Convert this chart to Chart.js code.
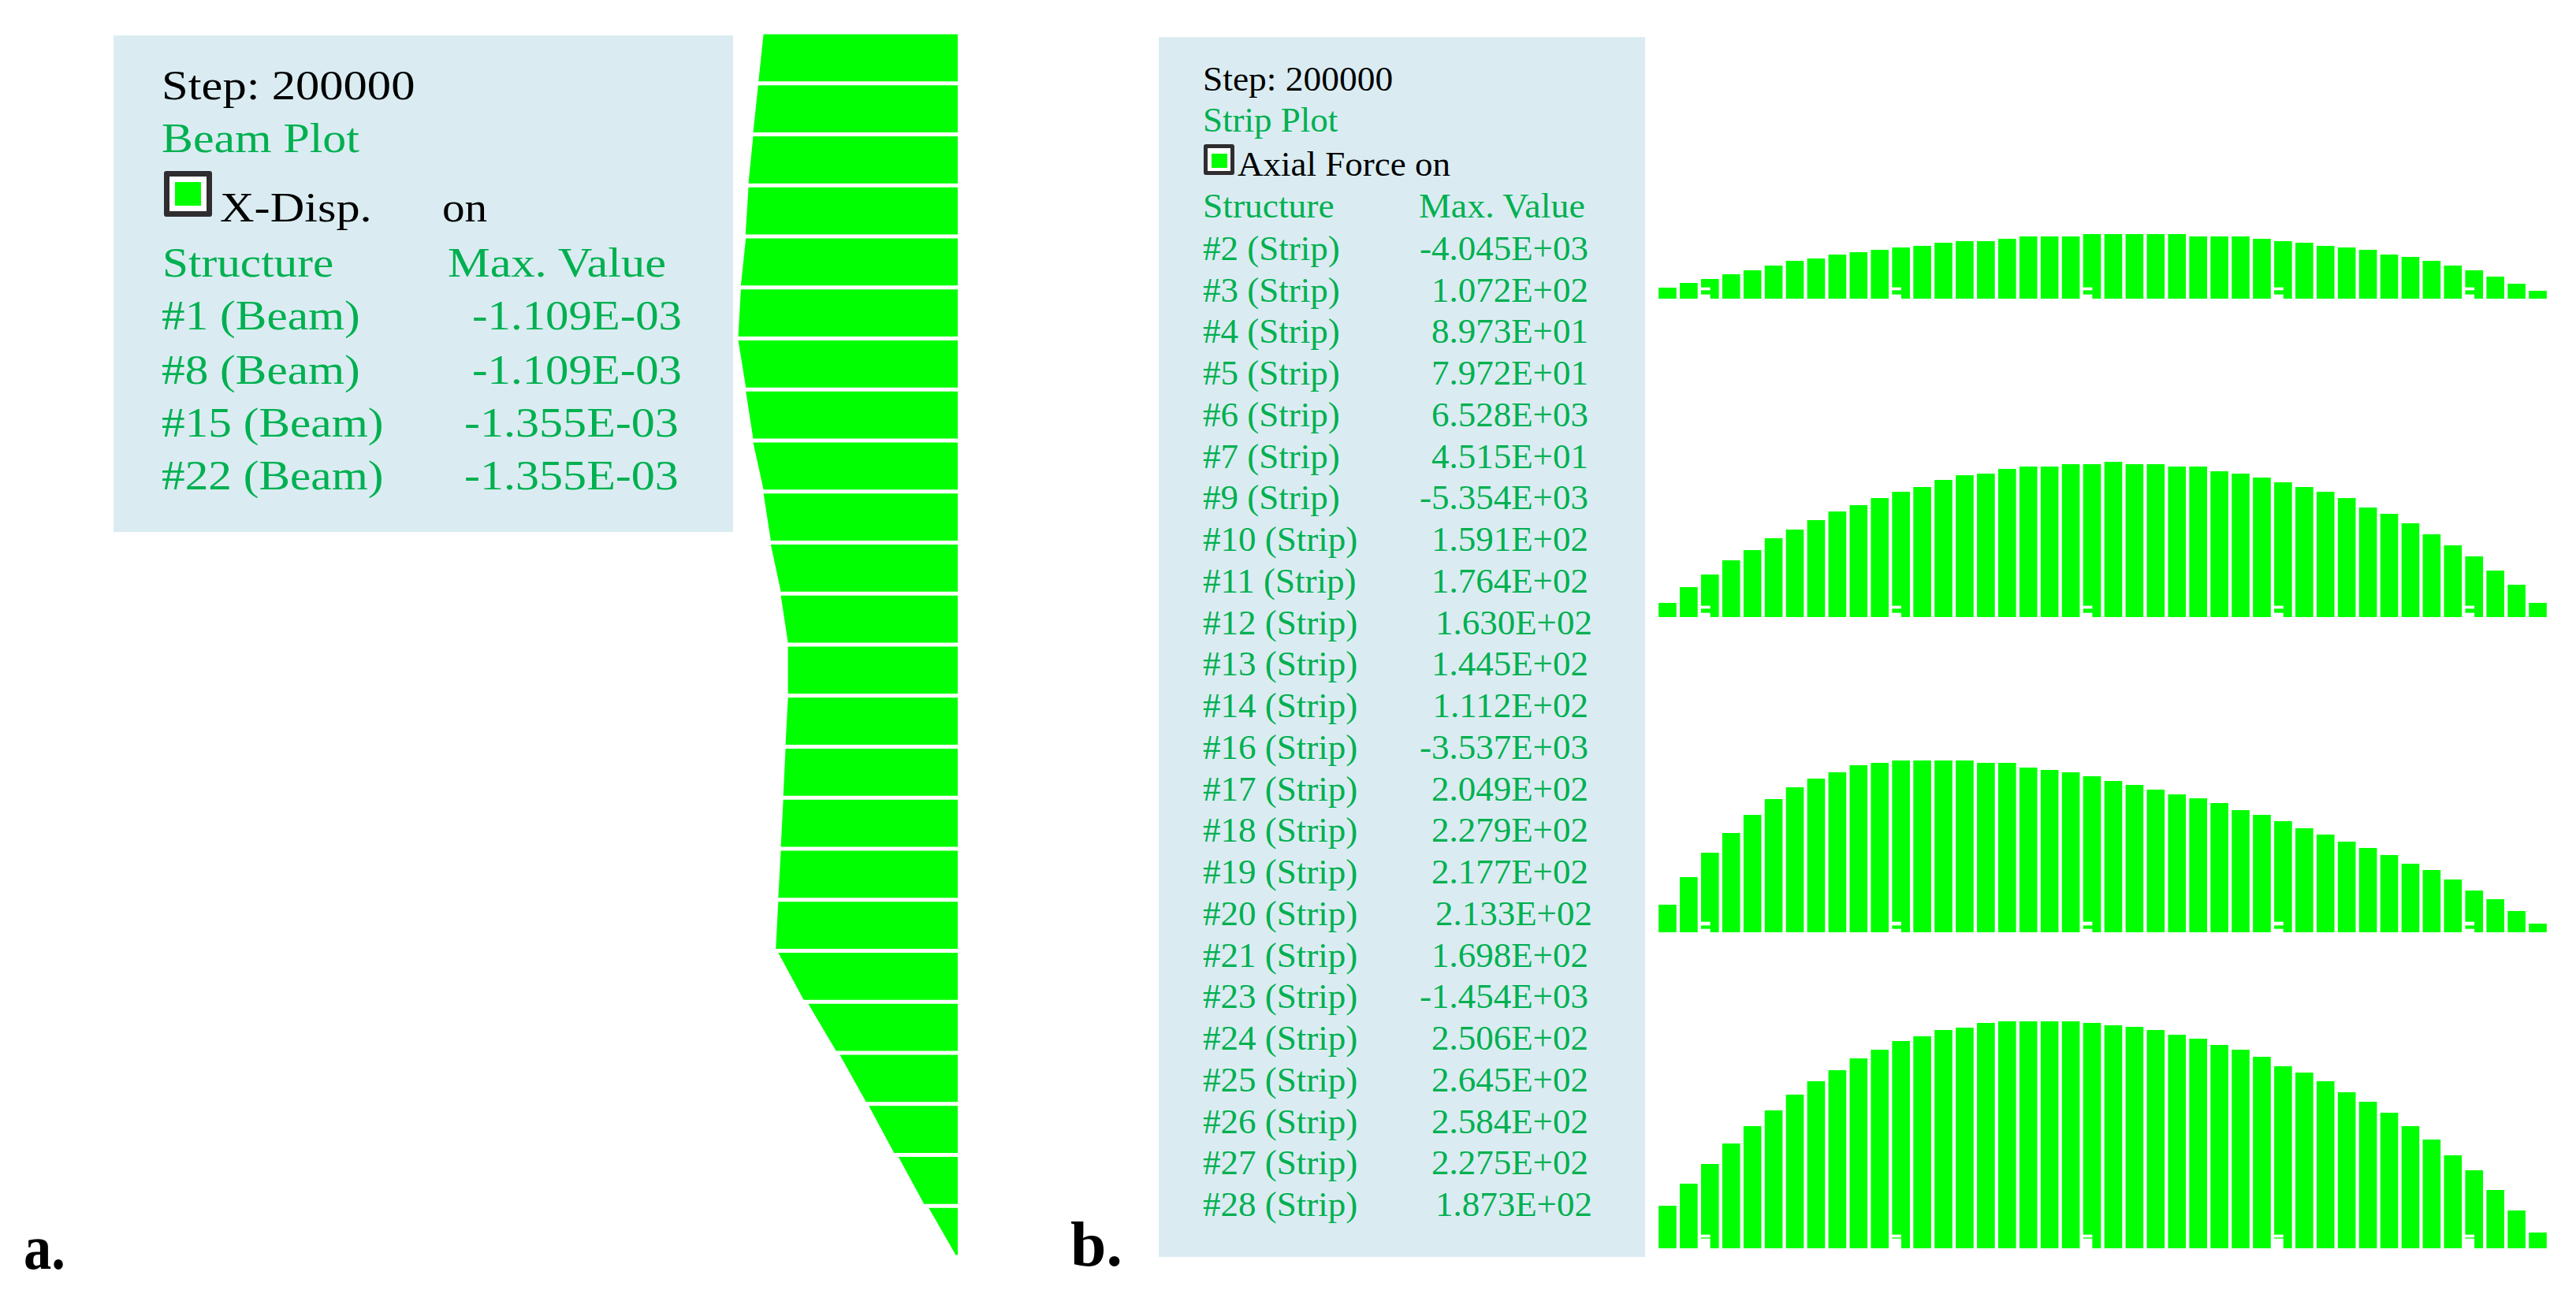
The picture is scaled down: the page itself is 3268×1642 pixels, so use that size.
<!DOCTYPE html>
<html>
<head>
<meta charset="utf-8">
<title>Beam and strip plot</title>
<script src="https://cdn.jsdelivr.net/npm/chart.js@4"></script>
<style>
  html, body { margin: 0; padding: 0; background: #fff; width: 3268px; height: 1642px; overflow: hidden; }
  canvas, .box, .txt, .icon { position: absolute; }
  .box { background: #daecf2; }
  .txt { font-family: "Liberation Serif", serif; white-space: pre; transform-origin: left top; line-height: normal; }
  .icon { box-sizing: border-box; background: #fff; border-style: solid; border-color: #302d31; border-radius: 3px; }
  .icon i { position: absolute; background: #00ff00; }
</style>
</head>
<body>
<script>
/* panel a: x-displacement at top and bottom of each beam element (x 1E-03) */
var beamTop = [1.199, 1.232, 1.263, 1.292, 1.308, 1.339, 1.355, 1.308, 1.263, 1.199, 1.154, 1.092,
               1.048, 1.048, 1.063, 1.077, 1.092, 1.108, 1.108, 0.923, 0.728, 0.549, 0.366, 0.179];
var beamBottom = [1.230, 1.263, 1.292, 1.310, 1.339, 1.355, 1.308, 1.263, 1.199, 1.154, 1.092, 1.048,
                  1.048, 1.063, 1.077, 1.092, 1.108, 1.123, 0.951, 0.751, 0.566, 0.393, 0.208, 0.012];

/* panel b: axial force per strip element */
var forceRow1 = [14, 20, 25, 31, 36, 42, 48, 51, 56, 59, 62, 65, 67, 71, 73, 73, 76, 79, 79, 79, 82, 82,
                 82, 82, 82, 79, 79, 79, 76, 73, 71, 67, 65, 62, 56, 53, 48, 42, 36, 28, 19, 10];
var forceRow2 = [18, 38, 54, 72, 85, 100, 111, 123, 134, 142, 151, 159, 165, 174, 180, 182, 188, 191, 191, 194, 194, 197,
                 194, 194, 191, 191, 185, 182, 177, 171, 165, 159, 151, 139, 131, 119, 105, 91, 77, 59, 41, 18];
var forceRow3 = [35, 70, 101, 126, 149, 169, 184, 195, 203, 212, 215, 218, 218, 218, 218, 215, 215, 209, 206, 203, 198, 192,
                 187, 181, 175, 170, 164, 155, 149, 141, 132, 124, 115, 107, 98, 87, 79, 67, 53, 42, 27, 11];
var forceRow4 = [54, 82, 107, 133, 155, 175, 195, 212, 226, 241, 252, 263, 269, 277, 280, 286, 288, 288, 288, 288, 286, 283,
                 281, 277, 271, 266, 258, 252, 243, 231, 223, 212, 198, 186, 172, 155, 138, 118, 99, 74, 48, 20];

/* the white tick marks left in some bars near the base */
var notchBars = [2, 11, 20, 29, 38];
var notchRow1 = [[0, 5], [11, 14]];
var notchRow2 = [[0, 5], [11, 14]];
var notchRow3 = [[0, 4], [9, 13]];
var notchRow4 = [[0, 12], [14, 17]];

/* legend tables */
var beamNames = ['#1 (Beam)', '#8 (Beam)', '#15 (Beam)', '#22 (Beam)'];
var beamMax = ['-1.109E-03', '-1.109E-03', '-1.355E-03', '-1.355E-03'];
var stripNames = ['#2 (Strip)', '#3 (Strip)', '#4 (Strip)', '#5 (Strip)', '#6 (Strip)', '#7 (Strip)',
                  '#9 (Strip)', '#10 (Strip)', '#11 (Strip)', '#12 (Strip)', '#13 (Strip)', '#14 (Strip)',
                  '#16 (Strip)', '#17 (Strip)', '#18 (Strip)', '#19 (Strip)', '#20 (Strip)', '#21 (Strip)',
                  '#23 (Strip)', '#24 (Strip)', '#25 (Strip)', '#26 (Strip)', '#27 (Strip)', '#28 (Strip)'];
var stripMax = ['-4.045E+03', '1.072E+02', '8.973E+01', '7.972E+01', '6.528E+03', '4.515E+01',
                '-5.354E+03', '1.591E+02', '1.764E+02', '1.630E+02', '1.445E+02', '1.112E+02',
                '-3.537E+03', '2.049E+02', '2.279E+02', '2.177E+02', '2.133E+02', '1.698E+02',
                '-1.454E+03', '2.506E+02', '2.645E+02', '2.584E+02', '2.275E+02', '1.873E+02'];

var GREEN = '#00ff00';
var TEXT_GREEN = '#00b050';

/* ---- html helpers ---- */
function el(cls, x, y, w, h) {
  var d = document.createElement('div');
  d.className = cls;
  d.style.left = x + 'px';
  d.style.top = y + 'px';
  if (w) d.style.width = w + 'px';
  if (h) d.style.height = h + 'px';
  document.body.appendChild(d);
  return d;
}

/* x = left edge of the text, base = baseline */
function put(text, x, base, size, color, stretch, bold) {
  var d = el('txt', x, Math.round(base - 0.912 * size));
  d.textContent = text;
  d.style.fontSize = size + 'px';
  d.style.color = color;
  if (stretch) d.style.transform = 'scaleX(' + stretch + ')';
  if (bold) d.style.fontWeight = 'bold';
  return d;
}

function icon(x, y, w, h, border, gx, gy, gw, gh) {
  var d = el('icon', x, y, w, h);
  d.style.borderWidth = border + 'px';
  var g = document.createElement('i');
  g.style.cssText = 'left:' + gx + 'px;top:' + gy + 'px;width:' + gw + 'px;height:' + gh + 'px';
  d.appendChild(g);
}

function canvas(x, y, w, h) {
  var c = document.createElement('canvas');
  c.width = w;
  c.height = h;
  c.style.left = x + 'px';
  c.style.top = y + 'px';
  c.style.width = w + 'px';
  c.style.height = h + 'px';
  document.body.appendChild(c);
  return c;
}

/* ---- text panels ---- */
el('box', 144, 45, 786, 630);
put('Step: 200000', 205, 126, 52, '#000', 1.165);
put('Beam Plot', 205, 193, 52, TEXT_GREEN, 1.15);
icon(208, 217, 61, 58, 7, 7, 7, 33, 30);
put('X-Disp.', 279, 281, 52, '#000', 1.16);
put('on', 561, 281, 52, '#000', 1.1);
put('Structure', 206, 351, 52, TEXT_GREEN, 1.14);
put('Max. Value', 568, 351, 52, TEXT_GREEN, 1.16);
var beamBase = [418, 487, 554, 621];
var beamValX = [599, 599, 589, 589];
var beamValStretch = [1.13, 1.13, 1.155, 1.155];
beamNames.forEach(function (n, i) {
  put(n, 205, beamBase[i], 52, TEXT_GREEN, 1.14);
  put(beamMax[i], beamValX[i], beamBase[i], 52, TEXT_GREEN, beamValStretch[i]);
});

el('box', 1470, 47, 617, 1548);
put('Step: 200000', 1526, 115, 45, '#000', 1.01);
put('Strip Plot', 1526, 167, 45, TEXT_GREEN);
icon(1527, 183, 39, 39, 5, 5, 7, 20, 18);
put('Axial Force on', 1570, 223, 45, '#000');
put('Structure', 1526, 276, 45, TEXT_GREEN, 1.01);
put('Max. Value', 1800, 276, 45, TEXT_GREEN, 1.02);
stripNames.forEach(function (n, i) {
  var base = 330 + i * 52.75;
  put(n, 1526, base, 45, TEXT_GREEN);
  var v = put(stripMax[i], 0, base, 45, TEXT_GREEN);
  v.style.left = 'auto';
  var shifted = (i === 9 || i === 16 || i === 23) ? 5 : 0;
  v.style.right = (3268 - 2015 - shifted) + 'px';
});

put('a.', 30, 1611, 80, '#000', 0.88, true);
put('b.', 1358, 1607, 80, '#000', 1.02, true);

/* ---- panel a: each beam element is a closed trapezoid against the zero line ---- */
var GAP = 0.04;
var beamSets = beamTop.map(function (t, i) {
  var y0 = i + GAP, y1 = i + 1 - GAP;
  return {
    data: [{ x: t, y: y0 }, { x: 0, y: y0 }, { x: 0, y: y1 }, { x: beamBottom[i], y: y1 }, { x: t, y: y0 }],
    backgroundColor: GREEN,
    borderWidth: 0,
    pointRadius: 0,
    fill: 'shape',
    tension: 0,
  };
});

new Chart(canvas(915, 41, 300, 1554), {
  type: 'line',
  data: { datasets: beamSets },
  options: {
    responsive: false,
    animation: false,
    layout: { padding: 0 },
    plugins: { legend: { display: false }, tooltip: { enabled: false } },
    scales: {
      x: { type: 'linear', reverse: true, min: 0, max: 1.46, display: false },
      y: { type: 'linear', reverse: true, min: 0, max: 24, display: false },
    },
  },
});

/* ---- panel b: one bar chart per strip row, all on the same force scale ---- */
function stripChart(values, notches, baseline) {
  var labels = values.map(function (v, i) { return i + 1; });
  /* second x axis splits every bar slot in two, so a notch covers the left half only */
  var halfLabels = [];
  for (var h = 0; h < values.length * 2; h++) halfLabels.push(h);

  var sets = [{ data: values, xAxisID: 'x', grouped: false, backgroundColor: GREEN, borderWidth: 0, barPercentage: 0.84, categoryPercentage: 1, order: 2 }];
  notches.forEach(function (band) {
    var d = halfLabels.map(function (h) {
      return (h % 2 === 0 && notchBars.indexOf(h / 2) >= 0) ? band : null;
    });
    sets.push({ data: d, xAxisID: 'x2', grouped: false, backgroundColor: '#fff', borderWidth: 0, barPercentage: 1, categoryPercentage: 1, order: 1 });
  });

  new Chart(canvas(2102, baseline - 300, 1131, 300), {
    type: 'bar',
    data: { labels: labels, datasets: sets },
    options: {
      responsive: false,
      animation: false,
      layout: { padding: 0 },
      plugins: { legend: { display: false }, tooltip: { enabled: false } },
      scales: {
        x: { display: false },
        x2: { type: 'category', labels: halfLabels, display: false },
        y: { min: 0, max: 300, display: false },
      },
    },
  });
}

stripChart(forceRow1, notchRow1, 379);
stripChart(forceRow2, notchRow2, 783);
stripChart(forceRow3, notchRow3, 1183);
stripChart(forceRow4, notchRow4, 1584);
</script>
</body>
</html>
